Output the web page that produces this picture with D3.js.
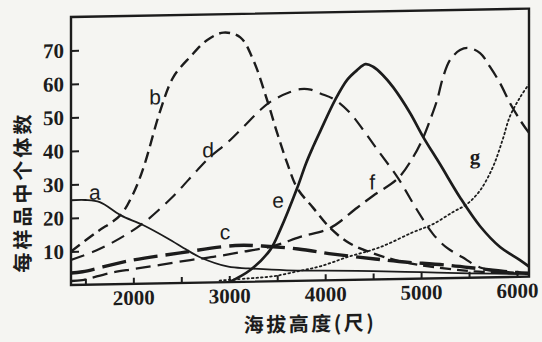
<!DOCTYPE html>
<html>
<head>
<meta charset="utf-8">
<script src="https://cdn.jsdelivr.net/npm/d3@7"></script>
<style>
  html, body { margin: 0; padding: 0; background: #f5f5f2; }
  svg { display: block; }
</style>
</head>
<body>
<svg id="chart" width="542" height="342"></svg>
<script>
// altitude (feet) vs individuals per sample
const curveA = [[1350,25.3],[1500,25.3],[1650,24.6],[1865,20.6],[2100,17.5],[2350,13.5],[2560,9.8],[2700,7.5],[2990,4.6],[3200,4],[3600,3.2],[4000,2.9],[4500,2.5],[5000,1.9],[5500,1.3],[6125,0.8]];
const curveB = [[1350,10],[1610,15.5],[1865,20.6],[2000,27],[2110,35],[2280,51.5],[2417,61.5],[2594,67.5],[2771,72.4],[2940,74.5],[3115,73],[3250,66.2],[3396,54],[3500,44.2],[3604,35.2],[3708,27.7],[3875,21.7],[4052,15.6],[4250,11],[4490,7.9],[4750,5.5],[5000,4],[5500,2],[6000,1],[6125,0.8]];
const curveC = [[1350,3.6],[1470,3.9],[1950,6.9],[2490,9],[3063,10.9],[3344,10.6],[3719,9.5],[4083,7.8],[4521,6.1],[4770,5.2],[5290,3.8],[5640,2.5],[5920,1.5],[6125,1]];
const curveD = [[1350,7.5],[1600,10],[1850,13.5],[2100,18],[2400,25.5],[2667,33.6],[2802,37.5],[2979,41.6],[3146,46.2],[3323,51.2],[3458,54.1],[3635,56.4],[3740,57.2],[3850,57],[3950,55.8],[4104,53.8],[4260,49.8],[4396,44.7],[4542,38.8],[4760,30.1],[4958,20.5],[5125,13.2],[5271,9],[5427,6.2],[5615,3],[5900,1.5],[6125,1]];
const curveE = [[3000,0],[3219,3.5],[3427,9.4],[3531,15.3],[3708,27.7],[3800,35],[3875,40],[3948,44.5],[4104,53.8],[4229,59.7],[4330,62.5],[4420,64.3],[4500,63.5],[4600,61],[4708,57.3],[4885,49.5],[5021,42.3],[5198,34],[5406,24],[5615,15.3],[5823,9],[6031,5],[6125,3]];
const curveF = [[1350,1.2],[1469,1.4],[1760,3.4],[2000,4.4],[2281,5.5],[2594,6.8],[2833,7.6],[3100,8.8],[3458,10.5],[3740,13.1],[4052,15.6],[4333,21.5],[4500,25],[4760,30.1],[4917,36.3],[5021,42],[5094,47.3],[5167,53.2],[5229,60],[5302,65.1],[5406,68],[5490,68.6],[5615,67],[5719,62.8],[5823,57.9],[5927,51.9],[6031,46.8],[6125,42.9]];
const curveG = [[2900,0.5],[3200,1],[3458,1.5],[3740,3],[3948,4.2],[4229,6.8],[4573,9.6],[4917,13.9],[5125,16.2],[5333,19.7],[5479,22],[5615,26],[5750,33],[5850,41],[5927,48],[6031,53.5],[6125,57.5]];

const curveNames = ['a', 'b', 'c', 'd', 'e', 'f', 'g'];
const yTicks = [10, 20, 30, 40, 50, 60, 70];
const xTicks = [1500, 2000, 2500, 3000, 3500, 4000, 4500, 5000, 5500, 6000];
const xLabels = [2000, 3000, 4000, 5000, 6000];
const yTitle = '每样品中个体数';
const xTitle = '海拔高度(尺)';

const ink = '#1c1c1c';
const styles = {
  a: {w: 1.8, dash: null},
  b: {w: 2.4, dash: '11,6'},
  c: {w: 3.4, dash: '24,8'},
  d: {w: 2.2, dash: '14,8'},
  e: {w: 2.7, dash: null},
  f: {w: 2.3, dash: '15,7'},
  g: {w: 1.8, dash: '1.6,3'}
};
// where each letter sits, in data units
const labelAt = {
  a: [1600, 27.6], b: [2226, 55.7], c: [2956, 15], d: [2779, 39.6],
  e: [3509, 24.2], f: [4489, 29.1], g: [5563, 36]
};

const width = 542, height = 342;
const margin = {top: 17, right: 13, bottom: 57, left: 71};
const innerW = width - margin.left - margin.right;
const innerH = height - margin.top - margin.bottom;

const svg = d3.select('#chart');
// the scanned page is slightly sheared
const g = svg.append('g')
  .attr('transform', `translate(${margin.left},${margin.top}) skewY(-1.05)`);

const x = d3.scaleLinear().domain([1350, 6125]).range([0, innerW]);
const y = d3.scaleLinear().domain([0, 80]).range([innerH, 0]);

g.append('clipPath').attr('id', 'plot')
  .append('rect').attr('width', innerW).attr('height', innerH);

const series = [curveA, curveB, curveC, curveD, curveE, curveF, curveG];
const line = d3.line()
  .x(d => x(d[0]))
  .y(d => y(d[1]))
  .curve(d3.curveCatmullRom.alpha(0.5));

const lines = g.append('g').attr('clip-path', 'url(#plot)');
series.forEach((s, i) => {
  const st = styles[curveNames[i]];
  lines.append('path')
    .datum(s)
    .attr('fill', 'none')
    .attr('stroke', ink)
    .attr('stroke-width', st.w)
    .attr('stroke-dasharray', st.dash)
    .attr('stroke-linecap', curveNames[i] === 'g' ? 'round' : 'butt')
    .attr('d', line);
});

// axes
const yAxis = g.append('g')
  .call(d3.axisLeft(y).tickValues(yTicks).tickSizeInner(-8).tickSizeOuter(0).tickPadding(7));
const xAxis = g.append('g')
  .attr('transform', `translate(0,${innerH})`)
  .call(d3.axisBottom(x).tickValues(xTicks).tickSizeInner(-6).tickSizeOuter(0).tickPadding(6)
    .tickFormat(d => xLabels.includes(d) ? d : ''));

[yAxis, xAxis].forEach(ax => {
  ax.select('.domain').remove();
  ax.selectAll('line').attr('stroke', ink).attr('stroke-width', 2);
  ax.selectAll('text')
    .attr('fill', ink)
    .style('font-family', '"Liberation Serif", serif')
    .style('font-weight', 'bold')
    .style('font-size', '21px');
});

g.append('rect')
  .attr('width', innerW).attr('height', innerH)
  .attr('fill', 'none').attr('stroke', ink).attr('stroke-width', 2.4);

// curve letters
g.selectAll('.lbl')
  .data(curveNames)
  .join('text')
  .attr('x', d => x(labelAt[d][0]))
  .attr('y', d => y(labelAt[d][1]))
  .attr('text-anchor', 'middle')
  .attr('dominant-baseline', 'central')
  .attr('fill', ink)
  .style('font-family', d => d === 'g' ? '"Liberation Serif", serif' : '"Liberation Sans", sans-serif')
  .style('font-weight', d => d === 'g' ? 'bold' : 'normal')
  .style('font-size', '21px')
  .text(d => d);

// titles
g.append('text')
  .attr('transform', `translate(${-49},${y(28)}) rotate(-90)`)
  .attr('text-anchor', 'middle')
  .attr('dominant-baseline', 'central')
  .attr('fill', ink)
  .style('font-family', '"Noto Sans CJK SC", sans-serif')
  .style('font-weight', 'bold')
  .style('font-size', '20px')
  .style('letter-spacing', '3px')
  .text(yTitle);

g.append('text')
  .attr('x', x(3150))
  .attr('y', innerH + 42)
  .attr('dominant-baseline', 'central')
  .attr('fill', ink)
  .style('font-family', '"Noto Sans CJK SC", sans-serif')
  .style('font-weight', 'bold')
  .style('font-size', '20px')
  .style('letter-spacing', '2.5px')
  .text(xTitle);
</script>
</body>
</html>
